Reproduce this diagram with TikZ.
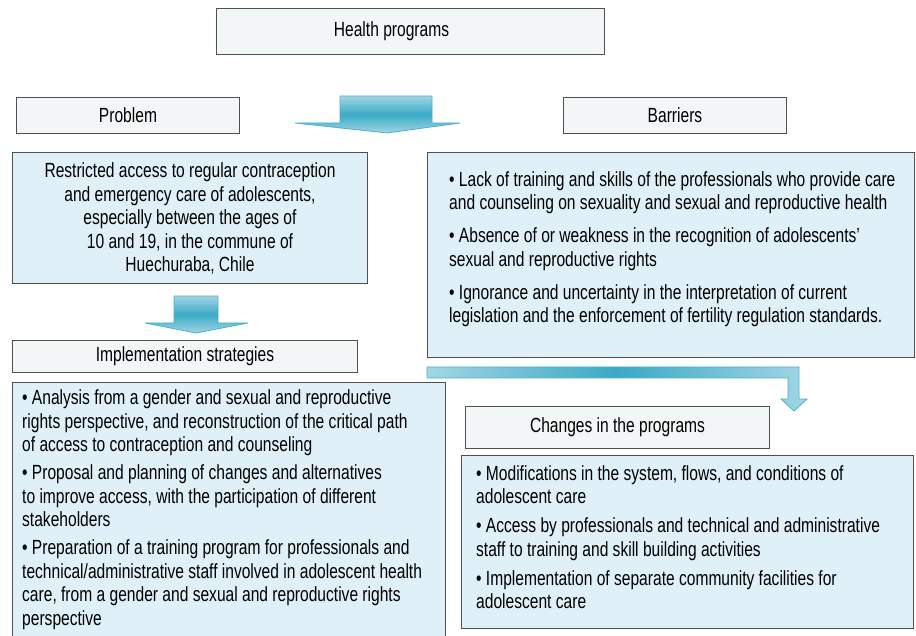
\documentclass[tikz,border=0pt]{standalone}
\usepackage{fontspec}
\setmainfont{Liberation Sans}[FakeStretch=0.76]
\definecolor{linec}{HTML}{505050}
\definecolor{hdrfill}{HTML}{F3F6F7}
\definecolor{boxfill}{HTML}{E0F0F8}
\definecolor{arrdark}{HTML}{3AA9C5}
\definecolor{arrlight}{HTML}{A2D6E5}
\definecolor{arredge}{HTML}{4DB1CC}
\begin{document}
\begin{tikzpicture}[x=1pt,y=-1pt,
  hdr/.style={draw=linec, fill=hdrfill, line width=1pt, inner sep=0pt, anchor=north west, font=\fontsize{20.5}{24}\selectfont},
  cbox/.style={draw=linec, fill=boxfill, line width=1pt, inner sep=0pt, anchor=north west},
  txt/.style={inner sep=0pt, anchor=north west, align=left, font=\fontsize{20.5}{23.5}\selectfont},
  arrowshape/.style={draw=arredge, line width=0.8pt}]
\useasboundingbox (0,0) rectangle (916,636);
% headers
\node[hdr, minimum width=388pt, minimum height=46pt] (hp) at (216,8) {};
\node[inner sep=0pt, font=\fontsize{20.5}{24}\selectfont] (hptxt) at ([xshift=-19pt]hp.center) {Health programs};
\node[hdr, minimum width=223pt, minimum height=36pt] (prob) at (16,97) {Problem};
\node[hdr, minimum width=223pt, minimum height=36pt] (barr) at (563,97) {Barriers};
\node[hdr, minimum width=345pt, minimum height=32pt] (impl) at (12,340) {Implementation strategies};
\node[hdr, minimum width=304pt, minimum height=42pt] (chg) at (465,406) {Changes in the programs};
% content boxes
\node[cbox, minimum width=355pt, minimum height=131pt] (probbox) at (12,152) {};
\node[txt, anchor=north, align=center] (probtxt) at (190,162.5) {Restricted access to regular contraception\\and emergency care of adolescents,\\especially between the ages of\\10 and 19, in the commune of\\Huechuraba, Chile};
\node[cbox, minimum width=487pt, minimum height=205pt] (barrbox) at (427,152) {};
\node[txt] (barrtxt) at (449,171) {• Lack of training and skills of the professionals who provide care\\and counseling on sexuality and sexual and reproductive health\\[9.5pt]• Absence of or weakness in the recognition of adolescents’\\sexual and reproductive rights\\[9.5pt]• Ignorance and uncertainty in the interpretation of current\\legislation and the enforcement of fertility regulation standards.};
\node[cbox, minimum width=433pt, minimum height=260pt] (implbox) at (12,382) {};
\node[txt] (impltxt) at (22,389.5) {• Analysis from a gender and sexual and reproductive\\rights perspective, and reconstruction of the critical path\\of access to contraception and counseling\\[4.5pt]• Proposal and planning of changes and alternatives\\to improve access, with the participation of different\\stakeholders\\[4.5pt]• Preparation of a training program for professionals and\\technical/administrative staff involved in adolescent health\\care, from a gender and sexual and reproductive rights\\perspective};
\node[cbox, minimum width=452pt, minimum height=173pt] (chgbox) at (461,455) {};
\node[txt] (chgtxt) at (476,465) {• Modifications in the system, flows, and conditions of\\adolescent care\\[5.5pt]• Access by professionals and technical and administrative\\staff to training and skill building activities\\[5.5pt]• Implementation of separate community facilities for\\adolescent care};
% arrows
\draw[arrowshape, top color=arrlight, bottom color=arrlight, middle color=arrdark]
  (340,96) -- (432,96) -- (432,123) -- (460,123) -- (387,133) -- (295,123) -- (340,123) -- cycle;
\draw[arrowshape, top color=arrlight, bottom color=arrlight, middle color=arrdark]
  (174,296) -- (218,296) -- (218,323) -- (248,323) -- (196,333) -- (145,323) -- (174,323) -- cycle;
\draw[arrowshape, left color=arrlight, right color=arrlight, middle color=arrdark]
  (427,367) -- (799,367) -- (799,399) -- (807,399) -- (794,411) -- (781,399) -- (788,399) -- (788,378) -- (427,378) -- cycle;
\end{tikzpicture}
\end{document}
